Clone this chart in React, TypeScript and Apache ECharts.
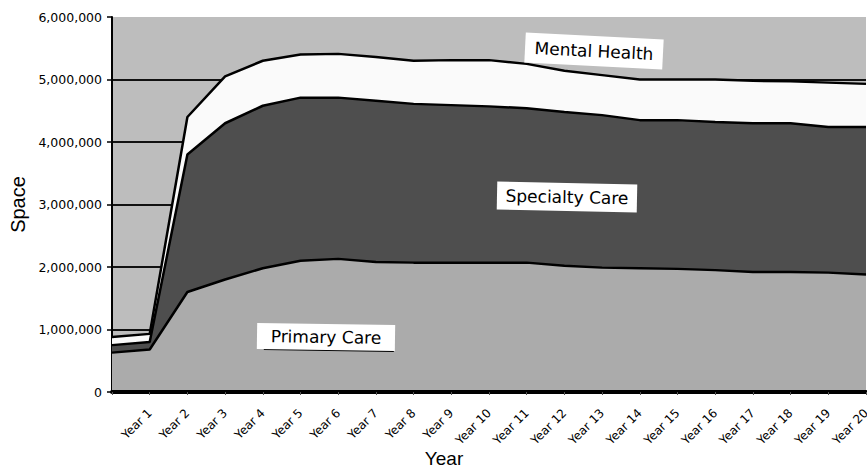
import React, { useEffect, useRef } from "react";
import * as echarts from "echarts";

const categories = ["", "Year 1", "Year 2", "Year 3", "Year 4", "Year 5", "Year 6", "Year 7", "Year 8", "Year 9", "Year 10", "Year 11", "Year 12", "Year 13", "Year 14", "Year 15", "Year 16", "Year 17", "Year 18", "Year 19", "Year 20"];

// Stacked values (space units)
const primaryCare = [630000, 680000, 1600000, 1800000, 1980000, 2100000, 2130000, 2080000, 2070000, 2070000, 2070000, 2070000, 2020000, 1990000, 1980000, 1970000, 1950000, 1920000, 1920000, 1910000, 1880000];
const specialtyCare = [120000, 120000, 2200000, 2500000, 2600000, 2610000, 2580000, 2580000, 2540000, 2520000, 2500000, 2470000, 2460000, 2440000, 2370000, 2380000, 2370000, 2380000, 2380000, 2330000, 2360000];
const mentalHealth = [130000, 130000, 600000, 750000, 720000, 690000, 700000, 700000, 690000, 720000, 740000, 710000, 660000, 640000, 650000, 650000, 680000, 680000, 670000, 710000, 690000];

const yTicks = { min: 0, max: 6000000, interval: 1000000 };

const fmt = (v: number) => String(Math.round(v)).replace(/\B(?=(\d{3})+(?!\d))/g, ",");

export default function App() {
  const ref = useRef<HTMLDivElement>(null);
  useEffect(() => {
    if (!ref.current) return;
    const chart = echarts.init(ref.current, null, { renderer: "svg" });
    const lineStyle = { color: "#000", width: 2.5 };
    const labelFont = '17px "DejaVu Sans"';
    const box = (cx: number, cy: number, rot: number, w: number, h: number, text: string, shadow: boolean) => ({
      type: "group",
      x: cx,
      y: cy,
      rotation: rot,
      zlevel: 1,
      z: 100,
      children: [
        ...(shadow
          ? [{ type: "rect", zlevel: 1, z: 100, shape: { x: -w / 2 + 7, y: h / 2 - 1, width: w - 8, height: 2 }, style: { fill: "#000" } }]
          : []),
        { type: "rect", zlevel: 1, z: 101, shape: { x: -w / 2, y: -h / 2, width: w, height: h }, style: { fill: "#fff" } },
        { type: "text", zlevel: 1, z: 102, x: 0, y: 0, style: { text, font: labelFont, fill: "#000", align: "center", verticalAlign: "middle" } },
      ],
    });
    chart.setOption({
      animation: false,
      backgroundColor: "#ffffff",
      grid: {
        left: 112,
        right: 1,
        top: 17,
        bottom: 80,
        outerBoundsMode: "none",
        containLabel: false,
        show: true,
        backgroundColor: "#bdbdbd",
        borderWidth: 0,
      },
      xAxis: {
        type: "category",
        data: categories,
        boundaryGap: false,
        name: "Year",
        nameLocation: "middle",
        nameGap: 56,
        nameMoveOverlap: false,
        nameTextStyle: { fontFamily: "Liberation Sans", fontSize: 19, lineHeight: 20, color: "#000", padding: [0, 90, 0, 0] },
        axisLine: { show: true, lineStyle: { color: "#000", width: 4 } },
        axisTick: { show: true, alignWithLabel: true, length: 3, lineStyle: { color: "#555", width: 1 } },
        axisLabel: {
          rotate: 45,
          interval: 0,
          margin: 19,
          fontFamily: "DejaVu Sans",
          fontSize: 12,
          color: "#000",
        },
        splitLine: { show: false },
        z: 10,
      },
      yAxis: {
        type: "value",
        min: yTicks.min,
        max: yTicks.max,
        interval: yTicks.interval,
        name: "Space",
        nameLocation: "middle",
        nameGap: 84,
        nameMoveOverlap: false,
        nameTextStyle: { fontFamily: "Liberation Sans", fontSize: 20, color: "#000" },
        axisLine: { show: true, lineStyle: { color: "#000", width: 2 } },
        axisTick: { show: true, length: 5, lineStyle: { color: "#000", width: 1.5 } },
        axisLabel: {
          formatter: (v: number) => fmt(v),
          fontFamily: "DejaVu Sans",
          fontSize: 12.5,
          color: "#000",
          margin: 10,
        },
        splitLine: {
          show: true,
          lineStyle: {
            color: ["#111", "#111", "#111", "#111", "#111", "#111", "rgba(0,0,0,0)"],
            width: 2,
          },
        },
      },
      series: [
        {
          name: "Primary Care",
          type: "line",
          stack: "total",
          data: primaryCare,
          symbol: "none",
          lineStyle,
          areaStyle: { color: "#ababab", opacity: 1 },
        },
        {
          name: "Specialty Care",
          type: "line",
          stack: "total",
          data: specialtyCare,
          symbol: "none",
          lineStyle,
          areaStyle: { color: "#4e4e4e", opacity: 1 },
        },
        {
          name: "Mental Health",
          type: "line",
          stack: "total",
          data: mentalHealth,
          symbol: "none",
          lineStyle,
          areaStyle: { color: "#fafafa", opacity: 1 },
        },
      ],
      graphic: [
        box(594, 51, -0.05, 138, 30, "Mental Health", false),
        box(567, 197, -0.02, 140, 28, "Specialty Care", false),
        box(326, 337, -0.015, 138, 26, "Primary Care", true),
      ],
    });
    return () => chart.dispose();
  }, []);
  return <div ref={ref} style={{ position: "fixed", left: 0, top: 0, width: 867, height: 472 }} />;
}
